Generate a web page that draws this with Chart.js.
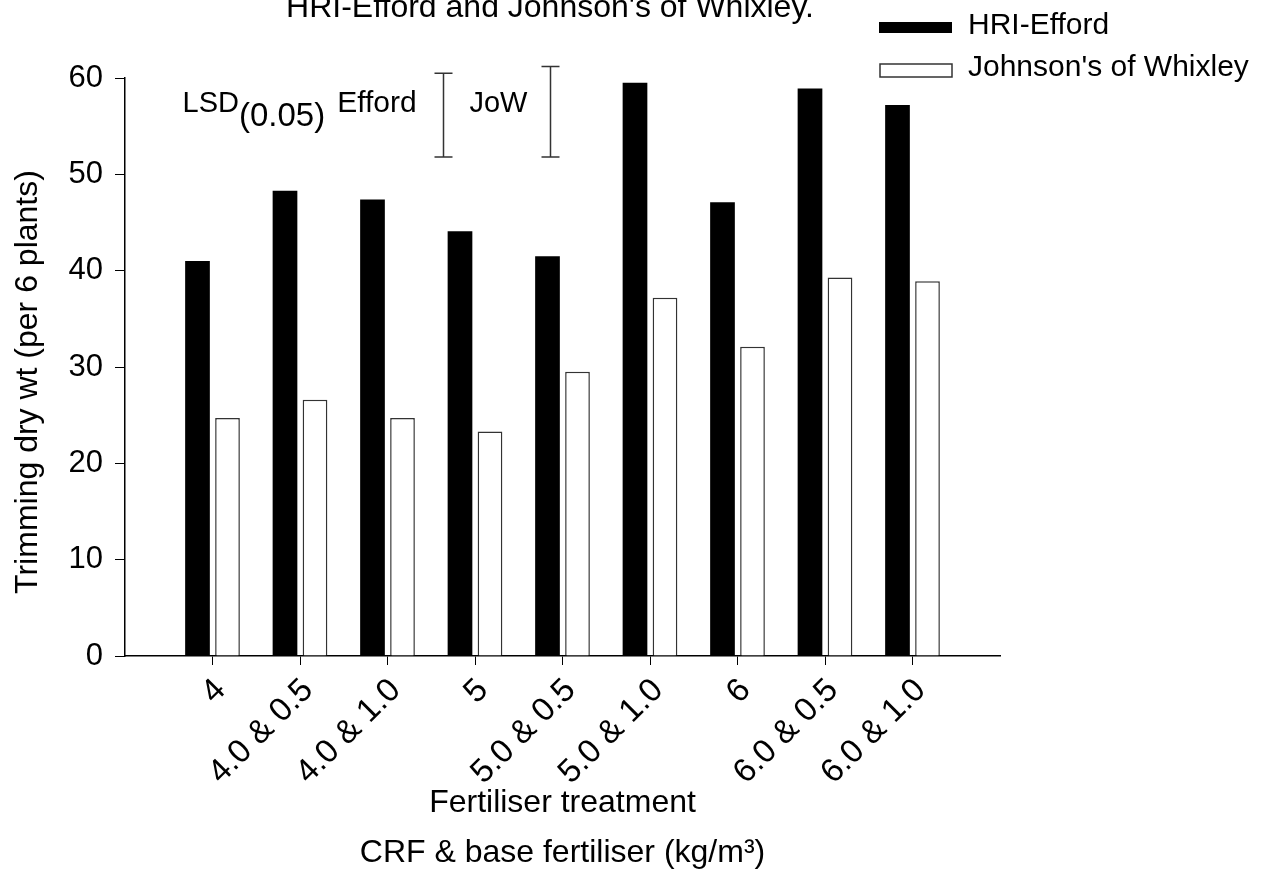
<!DOCTYPE html>
<html>
<head>
<meta charset="utf-8">
<script src="https://cdn.jsdelivr.net/npm/chart.js@4.4.0/dist/chart.umd.min.js"></script>
<style>
  html, body { margin: 0; padding: 0; background: #fff; }
  #wrap { width: 1275px; height: 894px; position: relative; }
</style>
</head>
<body>
<div id="wrap"><canvas id="chart"></canvas></div>
<script>
// --- data ---
const categories = ['4', '4.0 & 0.5', '4.0 & 1.0', '5', '5.0 & 0.5', '5.0 & 1.0', '6', '6.0 & 0.5', '6.0 & 1.0'];
const effordValues = [41.0, 48.3, 47.4, 44.1, 41.5, 59.5, 47.1, 58.9, 57.2];
const whixleyValues = [24.7, 26.6, 24.7, 23.3, 29.5, 37.2, 32.1, 39.3, 38.9];
const yTicks = [0, 10, 20, 30, 40, 50, 60];
const lsdLabels = ['Efford', 'JoW'];
const lsdValues = [8.7, 9.4];

const FONT = "'Liberation Sans', Arial, sans-serif";

// title, legend, y title and the LSD bars drawn by hand
const extras = {
    id: 'extras',
    afterDraw(chart) {
        const { ctx, scales: { x, y } } = chart;
        const ds = chart.data.datasets;
        ctx.save();
        ctx.fillStyle = '#000';
        ctx.textBaseline = 'alphabetic';

        // title, cut at the top in the original
        ctx.font = '32px ' + FONT;
        ctx.textAlign = 'center';
        ctx.fillText("HRI-Efford and Johnson's of Whixley.", 550, 17);

        // y title
        ctx.save();
        ctx.translate(37, 382);
        ctx.rotate(-Math.PI / 2);
        ctx.font = '32px ' + FONT;
        ctx.fillText('Trimming dry wt (per 6 plants)', 0, 0);
        ctx.restore();

        // legend
        ctx.font = '30px ' + FONT;
        ctx.textAlign = 'left';
        ctx.fillStyle = ds[0].backgroundColor;
        ctx.fillRect(879, 22, 73, 11);
        ctx.fillStyle = '#000';
        ctx.fillText(ds[0].label, 968, 34);
        ctx.fillStyle = ds[1].backgroundColor;
        ctx.fillRect(880, 64, 72, 13);
        ctx.strokeStyle = ds[1].borderColor;
        ctx.lineWidth = 1.5;
        ctx.strokeRect(880, 64, 72, 13);
        ctx.fillStyle = '#000';
        ctx.fillText(ds[1].label, 968, 76);

        // LSD bars
        const base = 51.8;
        const xs = [x.getPixelForValue(3.63), x.getPixelForValue(4.86)];
        ctx.strokeStyle = '#333';
        ctx.lineWidth = 1.5;
        lsdValues.forEach((len, i) => {
            const px = Math.round(xs[i]) + 0.5;
            const yb = y.getPixelForValue(base);
            const yt = y.getPixelForValue(base + len);
            ctx.beginPath();
            ctx.moveTo(px, yb); ctx.lineTo(px, yt);
            ctx.moveTo(px - 9, yb); ctx.lineTo(px + 9, yb);
            ctx.moveTo(px - 9, yt); ctx.lineTo(px + 9, yt);
            ctx.stroke();
        });

        const ty = y.getPixelForValue(56.5);
        ctx.textAlign = 'right';
        let right = xs[0] - 26;
        ctx.font = '30px ' + FONT;
        ctx.fillText(lsdLabels[0], right, ty);
        right -= ctx.measureText(lsdLabels[0]).width + 12;
        ctx.font = '33px ' + FONT;
        ctx.fillText('(0.05)', right, ty + 14);
        right -= ctx.measureText('(0.05)').width;
        ctx.font = '29px ' + FONT;
        ctx.fillText('LSD', right, ty);
        ctx.textAlign = 'center';
        ctx.fillText(lsdLabels[1], (xs[0] + xs[1]) / 2 + 2, ty);
        ctx.restore();
    }
};

new Chart(document.getElementById('chart'), {
    type: 'bar',
    data: {
        datasets: [{
            label: 'HRI-Efford',
            data: effordValues.map((v, i) => ({ x: i + 1, y: v })),
            backgroundColor: '#000',
            borderWidth: 0
        }, {
            label: "Johnson's of Whixley",
            data: whixleyValues.map((v, i) => ({ x: i + 1, y: v })),
            backgroundColor: '#fff',
            borderColor: '#333',
            borderWidth: 1.5
        }]
    },
    options: {
        responsive: true,
        maintainAspectRatio: false,
        animation: false,
        layout: { padding: { top: 78, right: 275, left: 4, bottom: 16 } },
        datasets: { bar: { categoryPercentage: 0.686, barPercentage: 0.823 } },
        plugins: { legend: { display: false }, tooltip: { enabled: false } },
        scales: {
            x: {
                type: 'linear',
                min: 0,
                max: 10,
                offset: false,
                afterBuildTicks: s => { s.ticks = categories.map((c, i) => ({ value: i + 1 })); },
                afterFit: s => { s.height = 894 - 16 - 656; },
                ticks: {
                    autoSkip: false,
                    minRotation: 45,
                    maxRotation: 45,
                    padding: 6,
                    labelOffset: 8,
                    color: '#000',
                    font: { family: FONT, size: 33 },
                    callback: v => categories[v - 1]
                },
                grid: { offset: false, drawOnChartArea: false, drawTicks: true, tickLength: 9, color: '#000' },
                border: { display: true, color: '#000', width: 1.5 },
                title: {
                    display: true,
                    text: ['Fertiliser treatment', 'CRF & base fertiliser (kg/m³)'],
                    color: '#000',
                    font: { family: FONT, size: 32, lineHeight: 1.56 },
                    padding: 0
                }
            },
            y: {
                min: 0,
                max: 60,
                afterBuildTicks: s => { s.ticks = yTicks.map(v => ({ value: v })); },
                afterFit: s => { s.width = 125 - 4; },
                ticks: { padding: 12, color: '#000', font: { family: FONT, size: 31 } },
                grid: { drawOnChartArea: false, drawTicks: true, tickLength: 10, color: '#000' },
                border: { display: true, color: '#000', width: 1.5 }
            }
        }
    },
    plugins: [extras]
});
</script>
</body>
</html>
